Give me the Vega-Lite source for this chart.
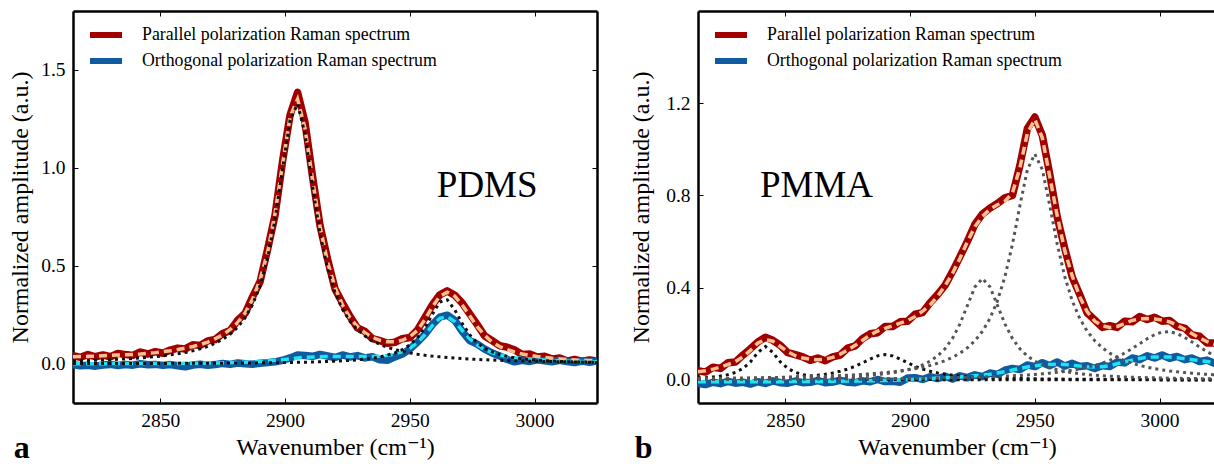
{
"$schema": "https://vega.github.io/schema/vega-lite/v6.json",
"padding": {"left": 8, "top": 10, "right": 0, "bottom": 0},
"config": {
 "view": {"stroke": null},
 "font": "'Liberation Serif', 'Times New Roman', 'DejaVu Serif', serif",
 "axis": {"grid": false, "domainColor": "#000", "domainWidth": 2.5, "tickColor": "#000", "tickWidth": 1, "tickSize": -5, "labelFont": "'Liberation Serif', 'Times New Roman', 'DejaVu Serif', serif", "labelFontSize": 19.5, "labelColor": "#000", "titleFont": "'Liberation Serif', 'Times New Roman', 'DejaVu Serif', serif", "titleFontSize": 24, "titleFontWeight": "normal", "titleColor": "#000", "labelFlush": false, "labelOverlap": false},
 "legend": {"labelFont": "'Liberation Serif', 'Times New Roman', 'DejaVu Serif', serif", "labelFontSize": 17.8, "labelColor": "#000", "labelLimit": 0},
 "text": {"font": "'Liberation Serif', 'Times New Roman', 'DejaVu Serif', serif"}
},
"datasets": {
"pdms": [
{"x":2815,"par":0.042,"orth":-0.005,"fpar":0.036,"forth":0.0,"c1":0.0148,"c2":0.0012},
{"x":2818,"par":0.033,"orth":-0.01,"fpar":0.037,"forth":0.0,"c1":0.0159,"c2":0.0013},
{"x":2821,"par":0.047,"orth":-0.008,"fpar":0.038,"forth":0.0,"c1":0.017,"c2":0.0013},
{"x":2824,"par":0.036,"orth":-0.012,"fpar":0.039,"forth":0.0,"c1":0.0183,"c2":0.0014},
{"x":2827,"par":0.045,"orth":-0.006,"fpar":0.041,"forth":0.0,"c1":0.0197,"c2":0.0014},
{"x":2830,"par":0.036,"orth":-0.003,"fpar":0.043,"forth":0.001,"c1":0.0213,"c2":0.0015},
{"x":2833,"par":0.053,"orth":-0.009,"fpar":0.045,"forth":0.001,"c1":0.0231,"c2":0.0016},
{"x":2836,"par":0.047,"orth":-0.004,"fpar":0.046,"forth":0.001,"c1":0.0251,"c2":0.0016},
{"x":2839,"par":0.043,"orth":-0.007,"fpar":0.048,"forth":0.001,"c1":0.0274,"c2":0.0017},
{"x":2842,"par":0.06,"orth":0.0,"fpar":0.05,"forth":0.001,"c1":0.03,"c2":0.0018},
{"x":2845,"par":0.05,"orth":-0.005,"fpar":0.053,"forth":0.001,"c1":0.0331,"c2":0.0019},
{"x":2848,"par":0.062,"orth":-0.003,"fpar":0.057,"forth":0.002,"c1":0.0365,"c2":0.002},
{"x":2851,"par":0.054,"orth":-0.008,"fpar":0.062,"forth":0.002,"c1":0.0407,"c2":0.0021},
{"x":2854,"par":0.07,"orth":-0.004,"fpar":0.067,"forth":0.002,"c1":0.0454,"c2":0.0022},
{"x":2857,"par":0.08,"orth":-0.01,"fpar":0.073,"forth":0.002,"c1":0.0512,"c2":0.0023},
{"x":2860,"par":0.076,"orth":-0.015,"fpar":0.08,"forth":0.003,"c1":0.0581,"c2":0.0025},
{"x":2863,"par":0.097,"orth":-0.006,"fpar":0.088,"forth":0.003,"c1":0.0662,"c2":0.0027},
{"x":2866,"par":0.094,"orth":-0.002,"fpar":0.098,"forth":0.003,"c1":0.0764,"c2":0.0028},
{"x":2869,"par":0.117,"orth":-0.008,"fpar":0.111,"forth":0.004,"c1":0.0889,"c2":0.003},
{"x":2872,"par":0.124,"orth":-0.004,"fpar":0.128,"forth":0.004,"c1":0.1047,"c2":0.0032},
{"x":2875,"par":0.155,"orth":0.002,"fpar":0.148,"forth":0.005,"c1":0.125,"c2":0.0034},
{"x":2878,"par":0.17,"orth":-0.003,"fpar":0.175,"forth":0.006,"c1":0.1515,"c2":0.0036},
{"x":2881,"par":0.222,"orth":0.004,"fpar":0.21,"forth":0.007,"c1":0.1868,"c2":0.0039},
{"x":2884,"par":0.258,"orth":0.0,"fpar":0.26,"forth":0.008,"c1":0.2354,"c2":0.0042},
{"x":2887,"par":0.343,"orth":-0.002,"fpar":0.33,"forth":0.01,"c1":0.303,"c2":0.0045},
{"x":2890,"par":0.42,"orth":0.003,"fpar":0.43,"forth":0.012,"c1":0.399,"c2":0.0049},
{"x":2893,"par":0.585,"orth":0.006,"fpar":0.57,"forth":0.015,"c1":0.54,"c2":0.0053},
{"x":2896,"par":0.76,"orth":0.01,"fpar":0.77,"forth":0.018,"c1":0.739,"c2":0.0058},
{"x":2899,"par":1.035,"orth":0.018,"fpar":1.02,"forth":0.021,"c1":0.996,"c2":0.0063},
{"x":2902,"par":1.27,"orth":0.03,"fpar":1.26,"forth":0.025,"c1":1.244,"c2":0.007},
{"x":2905,"par":1.385,"orth":0.045,"fpar":1.35,"forth":0.03,"c1":1.326,"c2":0.0075},
{"x":2908,"par":1.23,"orth":0.042,"fpar":1.2,"forth":0.033,"c1":1.171,"c2":0.0083},
{"x":2911,"par":0.955,"orth":0.038,"fpar":0.94,"forth":0.035,"c1":0.906,"c2":0.0092},
{"x":2914,"par":0.705,"orth":0.048,"fpar":0.7,"forth":0.036,"c1":0.665,"c2":0.0103},
{"x":2917,"par":0.535,"orth":0.04,"fpar":0.52,"forth":0.037,"c1":0.487,"c2":0.0117},
{"x":2920,"par":0.382,"orth":0.032,"fpar":0.39,"forth":0.037,"c1":0.363,"c2":0.0133},
{"x":2923,"par":0.31,"orth":0.045,"fpar":0.3,"forth":0.037,"c1":0.278,"c2":0.0152},
{"x":2926,"par":0.242,"orth":0.035,"fpar":0.235,"forth":0.037,"c1":0.217,"c2":0.0175},
{"x":2929,"par":0.183,"orth":0.042,"fpar":0.19,"forth":0.037,"c1":0.174,"c2":0.0205},
{"x":2932,"par":0.165,"orth":0.03,"fpar":0.158,"forth":0.037,"c1":0.142,"c2":0.0242},
{"x":2935,"par":0.128,"orth":0.036,"fpar":0.135,"forth":0.037,"c1":0.118,"c2":0.029},
{"x":2938,"par":0.118,"orth":0.02,"fpar":0.12,"forth":0.039,"c1":0.099,"c2":0.0353},
{"x":2941,"par":0.105,"orth":0.018,"fpar":0.112,"forth":0.043,"c1":0.0844,"c2":0.0438},
{"x":2944,"par":0.11,"orth":0.035,"fpar":0.112,"forth":0.05,"c1":0.0727,"c2":0.0556},
{"x":2947,"par":0.128,"orth":0.05,"fpar":0.12,"forth":0.062,"c1":0.0633,"c2":0.0722},
{"x":2950,"par":0.134,"orth":0.075,"fpar":0.138,"forth":0.08,"c1":0.0556,"c2":0.0965},
{"x":2953,"par":0.172,"orth":0.11,"fpar":0.17,"forth":0.108,"c1":0.0492,"c2":0.1323},
{"x":2956,"par":0.235,"orth":0.15,"fpar":0.225,"forth":0.148,"c1":0.0437,"c2":0.184},
{"x":2959,"par":0.3,"orth":0.2,"fpar":0.29,"forth":0.195,"c1":0.0392,"c2":0.252},
{"x":2962,"par":0.352,"orth":0.238,"fpar":0.345,"forth":0.232,"c1":0.0354,"c2":0.315},
{"x":2965,"par":0.372,"orth":0.248,"fpar":0.365,"forth":0.24,"c1":0.032,"c2":0.326},
{"x":2968,"par":0.35,"orth":0.222,"fpar":0.345,"forth":0.215,"c1":0.0291,"c2":0.2756},
{"x":2971,"par":0.31,"orth":0.165,"fpar":0.3,"forth":0.17,"c1":0.0266,"c2":0.2056},
{"x":2974,"par":0.255,"orth":0.118,"fpar":0.245,"forth":0.128,"c1":0.0244,"c2":0.1477},
{"x":2977,"par":0.2,"orth":0.1,"fpar":0.19,"forth":0.095,"c1":0.0225,"c2":0.107},
{"x":2980,"par":0.142,"orth":0.075,"fpar":0.145,"forth":0.072,"c1":0.0207,"c2":0.0793},
{"x":2983,"par":0.118,"orth":0.055,"fpar":0.11,"forth":0.056,"c1":0.0192,"c2":0.0605},
{"x":2986,"par":0.092,"orth":0.04,"fpar":0.088,"forth":0.045,"c1":0.0178,"c2":0.0473},
{"x":2989,"par":0.085,"orth":0.022,"fpar":0.072,"forth":0.037,"c1":0.0166,"c2":0.0379},
{"x":2992,"par":0.07,"orth":0.01,"fpar":0.06,"forth":0.031,"c1":0.0155,"c2":0.0309},
{"x":2995,"par":0.048,"orth":0.018,"fpar":0.05,"forth":0.027,"c1":0.0145,"c2":0.0257},
{"x":2998,"par":0.05,"orth":0.012,"fpar":0.043,"forth":0.024,"c1":0.0136,"c2":0.0216},
{"x":3001,"par":0.035,"orth":0.02,"fpar":0.037,"forth":0.021,"c1":0.0128,"c2":0.0184},
{"x":3004,"par":0.038,"orth":0.015,"fpar":0.032,"forth":0.019,"c1":0.012,"c2":0.0159},
{"x":3007,"par":0.024,"orth":0.01,"fpar":0.028,"forth":0.017,"c1":0.0113,"c2":0.0139},
{"x":3010,"par":0.03,"orth":0.018,"fpar":0.025,"forth":0.016,"c1":0.0107,"c2":0.0122},
{"x":3013,"par":0.014,"orth":0.012,"fpar":0.022,"forth":0.014,"c1":0.0101,"c2":0.0108},
{"x":3016,"par":0.022,"orth":0.006,"fpar":0.02,"forth":0.013,"c1":0.0096,"c2":0.0096},
{"x":3019,"par":0.012,"orth":0.014,"fpar":0.018,"forth":0.012,"c1":0.0091,"c2":0.0086},
{"x":3022,"par":0.02,"orth":0.008,"fpar":0.017,"forth":0.011,"c1":0.0086,"c2":0.0078},
{"x":3025,"par":0.014,"orth":0.015,"fpar":0.016,"forth":0.01,"c1":0.0082,"c2":0.007}
],
"pmma": [
{"x":2815,"par":0.04,"orth":-0.015,"fpar":0.035,"forth":-0.008,"p1":0.0079,"p2":0.0032,"p4":0.0034,"p5":0.0065,"p6":0.0021},
{"x":2818,"par":0.034,"orth":-0.02,"fpar":0.04,"forth":-0.008,"p1":0.0099,"p2":0.0035,"p4":0.0035,"p5":0.0068,"p6":0.0022},
{"x":2821,"par":0.055,"orth":-0.01,"fpar":0.047,"forth":-0.008,"p1":0.0127,"p2":0.0038,"p4":0.0037,"p5":0.0071,"p6":0.0022},
{"x":2824,"par":0.05,"orth":-0.016,"fpar":0.056,"forth":-0.008,"p1":0.0167,"p2":0.0041,"p4":0.004,"p5":0.0074,"p6":0.0023},
{"x":2827,"par":0.075,"orth":-0.006,"fpar":0.067,"forth":-0.008,"p1":0.0229,"p2":0.0045,"p4":0.0042,"p5":0.0078,"p6":0.0024},
{"x":2830,"par":0.078,"orth":-0.014,"fpar":0.08,"forth":-0.008,"p1":0.0329,"p2":0.0049,"p4":0.0044,"p5":0.0082,"p6":0.0025},
{"x":2833,"par":0.108,"orth":-0.01,"fpar":0.1,"forth":-0.008,"p1":0.0497,"p2":0.0054,"p4":0.0047,"p5":0.0086,"p6":0.0026},
{"x":2836,"par":0.135,"orth":-0.018,"fpar":0.128,"forth":-0.008,"p1":0.0783,"p2":0.006,"p4":0.005,"p5":0.009,"p6":0.0027},
{"x":2839,"par":0.165,"orth":-0.008,"fpar":0.16,"forth":-0.008,"p1":0.1195,"p2":0.0067,"p4":0.0054,"p5":0.0095,"p6":0.0028},
{"x":2842,"par":0.185,"orth":-0.015,"fpar":0.175,"forth":-0.008,"p1":0.145,"p2":0.0075,"p4":0.0057,"p5":0.0101,"p6":0.0029},
{"x":2845,"par":0.172,"orth":-0.004,"fpar":0.168,"forth":-0.008,"p1":0.1195,"p2":0.0085,"p4":0.0061,"p5":0.0106,"p6":0.003},
{"x":2848,"par":0.15,"orth":-0.012,"fpar":0.145,"forth":-0.008,"p1":0.0783,"p2":0.0096,"p4":0.0066,"p5":0.0113,"p6":0.0031},
{"x":2851,"par":0.118,"orth":-0.014,"fpar":0.122,"forth":-0.007,"p1":0.0497,"p2":0.011,"p4":0.0071,"p5":0.012,"p6":0.0033},
{"x":2854,"par":0.11,"orth":-0.005,"fpar":0.105,"forth":-0.007,"p1":0.0329,"p2":0.0127,"p4":0.0077,"p5":0.0127,"p6":0.0034},
{"x":2857,"par":0.1,"orth":-0.012,"fpar":0.095,"forth":-0.007,"p1":0.0229,"p2":0.0148,"p4":0.0083,"p5":0.0135,"p6":0.0035},
{"x":2860,"par":0.085,"orth":-0.01,"fpar":0.09,"forth":-0.007,"p1":0.0167,"p2":0.0174,"p4":0.0091,"p5":0.0144,"p6":0.0037},
{"x":2863,"par":0.095,"orth":-0.003,"fpar":0.088,"forth":-0.007,"p1":0.0127,"p2":0.0207,"p4":0.0099,"p5":0.0154,"p6":0.0038},
{"x":2866,"par":0.083,"orth":-0.012,"fpar":0.09,"forth":-0.006,"p1":0.0099,"p2":0.0249,"p4":0.0108,"p5":0.0165,"p6":0.004},
{"x":2869,"par":0.1,"orth":-0.009,"fpar":0.098,"forth":-0.006,"p1":0.0079,"p2":0.0305,"p4":0.0119,"p5":0.0178,"p6":0.0042},
{"x":2872,"par":0.108,"orth":-0.002,"fpar":0.112,"forth":-0.006,"p1":0.0065,"p2":0.0377,"p4":0.0128,"p5":0.0191,"p6":0.0044},
{"x":2875,"par":0.138,"orth":-0.01,"fpar":0.13,"forth":-0.005,"p1":0.0054,"p2":0.0472,"p4":0.0146,"p5":0.0206,"p6":0.0046},
{"x":2878,"par":0.148,"orth":-0.012,"fpar":0.15,"forth":-0.005,"p1":0.0046,"p2":0.0594,"p4":0.0163,"p5":0.0224,"p6":0.0048},
{"x":2881,"par":0.18,"orth":-0.004,"fpar":0.172,"forth":-0.004,"p1":0.0039,"p2":0.0744,"p4":0.0183,"p5":0.0243,"p6":0.0051},
{"x":2884,"par":0.2,"orth":-0.008,"fpar":0.195,"forth":-0.004,"p1":0.0034,"p2":0.0907,"p4":0.0207,"p5":0.0265,"p6":0.0053},
{"x":2887,"par":0.205,"orth":0.002,"fpar":0.212,"forth":-0.003,"p1":0.003,"p2":0.1045,"p4":0.0236,"p5":0.029,"p6":0.0056},
{"x":2890,"par":0.232,"orth":-0.007,"fpar":0.224,"forth":-0.002,"p1":0.0026,"p2":0.11,"p4":0.0272,"p5":0.0319,"p6":0.0058},
{"x":2893,"par":0.232,"orth":-0.006,"fpar":0.235,"forth":-0.001,"p1":0.0023,"p2":0.1045,"p4":0.0315,"p5":0.0352,"p6":0.0062},
{"x":2896,"par":0.252,"orth":-0.01,"fpar":0.246,"forth":0.0,"p1":0.002,"p2":0.0907,"p4":0.037,"p5":0.039,"p6":0.0065},
{"x":2899,"par":0.255,"orth":0.008,"fpar":0.258,"forth":0.001,"p1":0.0018,"p2":0.0744,"p4":0.044,"p5":0.0436,"p6":0.0069},
{"x":2902,"par":0.285,"orth":0.01,"fpar":0.275,"forth":0.003,"p1":0.0017,"p2":0.0594,"p4":0.0531,"p5":0.0489,"p6":0.0072},
{"x":2905,"par":0.292,"orth":0.002,"fpar":0.298,"forth":0.004,"p1":0.0015,"p2":0.0472,"p4":0.0651,"p5":0.0552,"p6":0.0076},
{"x":2908,"par":0.335,"orth":0.014,"fpar":0.325,"forth":0.006,"p1":0.0014,"p2":0.0377,"p4":0.0813,"p5":0.0629,"p6":0.0081},
{"x":2911,"par":0.37,"orth":0.006,"fpar":0.362,"forth":0.008,"p1":0.0013,"p2":0.0305,"p4":0.1038,"p5":0.0722,"p6":0.0086},
{"x":2914,"par":0.41,"orth":0.016,"fpar":0.408,"forth":0.009,"p1":0.0012,"p2":0.0249,"p4":0.1354,"p5":0.0837,"p6":0.0092},
{"x":2917,"par":0.47,"orth":0.004,"fpar":0.462,"forth":0.011,"p1":0.0011,"p2":0.0207,"p4":0.1803,"p5":0.098,"p6":0.0098},
{"x":2920,"par":0.535,"orth":0.018,"fpar":0.528,"forth":0.013,"p1":0.001,"p2":0.0174,"p4":0.2431,"p5":0.1161,"p6":0.0105},
{"x":2923,"par":0.602,"orth":0.01,"fpar":0.6,"forth":0.015,"p1":0.001,"p2":0.0148,"p4":0.3235,"p5":0.1395,"p6":0.0112},
{"x":2926,"par":0.675,"orth":0.022,"fpar":0.665,"forth":0.018,"p1":0.0009,"p2":0.0127,"p4":0.4037,"p5":0.1701,"p6":0.0121},
{"x":2929,"par":0.72,"orth":0.014,"fpar":0.71,"forth":0.021,"p1":0.0009,"p2":0.011,"p4":0.44,"p5":0.211,"p6":0.013},
{"x":2932,"par":0.745,"orth":0.03,"fpar":0.74,"forth":0.025,"p1":0.0008,"p2":0.0096,"p4":0.4037,"p5":0.2664,"p6":0.014},
{"x":2935,"par":0.765,"orth":0.024,"fpar":0.76,"forth":0.03,"p1":0.0008,"p2":0.0085,"p4":0.3235,"p5":0.3427,"p6":0.0152},
{"x":2938,"par":0.79,"orth":0.042,"fpar":0.775,"forth":0.036,"p1":0.0007,"p2":0.0075,"p4":0.2431,"p5":0.4475,"p6":0.0165},
{"x":2941,"par":0.8,"orth":0.05,"fpar":0.81,"forth":0.043,"p1":0.0007,"p2":0.0067,"p4":0.1803,"p5":0.5871,"p6":0.018},
{"x":2944,"par":0.93,"orth":0.045,"fpar":0.92,"forth":0.05,"p1":0.0006,"p2":0.006,"p4":0.1354,"p5":0.7553,"p6":0.0197},
{"x":2947,"par":1.09,"orth":0.065,"fpar":1.07,"forth":0.056,"p1":0.0006,"p2":0.0054,"p4":0.1038,"p5":0.9121,"p6":0.0217},
{"x":2950,"par":1.14,"orth":0.058,"fpar":1.13,"forth":0.062,"p1":0.0006,"p2":0.0049,"p4":0.0813,"p5":0.98,"p6":0.0239},
{"x":2953,"par":1.06,"orth":0.075,"fpar":1.05,"forth":0.065,"p1":0.0005,"p2":0.0045,"p4":0.0651,"p5":0.9121,"p6":0.0265},
{"x":2956,"par":0.89,"orth":0.062,"fpar":0.88,"forth":0.067,"p1":0.0005,"p2":0.0041,"p4":0.0531,"p5":0.7553,"p6":0.0295},
{"x":2959,"par":0.705,"orth":0.078,"fpar":0.71,"forth":0.068,"p1":0.0005,"p2":0.0038,"p4":0.044,"p5":0.5871,"p6":0.033},
{"x":2962,"par":0.57,"orth":0.06,"fpar":0.56,"forth":0.067,"p1":0.0005,"p2":0.0035,"p4":0.037,"p5":0.4475,"p6":0.0371},
{"x":2965,"par":0.445,"orth":0.072,"fpar":0.45,"forth":0.064,"p1":0.0004,"p2":0.0032,"p4":0.0315,"p5":0.3427,"p6":0.042},
{"x":2968,"par":0.37,"orth":0.058,"fpar":0.36,"forth":0.06,"p1":0.0004,"p2":0.003,"p4":0.0272,"p5":0.2664,"p6":0.0478},
{"x":2971,"par":0.29,"orth":0.062,"fpar":0.295,"forth":0.057,"p1":0.0004,"p2":0.0028,"p4":0.0236,"p5":0.211,"p6":0.0547},
{"x":2974,"par":0.26,"orth":0.05,"fpar":0.255,"forth":0.056,"p1":0.0004,"p2":0.0026,"p4":0.0207,"p5":0.1701,"p6":0.0631},
{"x":2977,"par":0.228,"orth":0.062,"fpar":0.235,"forth":0.057,"p1":0.0004,"p2":0.0024,"p4":0.0183,"p5":0.1395,"p6":0.0731},
{"x":2980,"par":0.235,"orth":0.058,"fpar":0.228,"forth":0.062,"p1":0.0003,"p2":0.0022,"p4":0.0163,"p5":0.1161,"p6":0.0852},
{"x":2983,"par":0.228,"orth":0.078,"fpar":0.232,"forth":0.07,"p1":0.0003,"p2":0.0021,"p4":0.0146,"p5":0.098,"p6":0.0996},
{"x":2986,"par":0.255,"orth":0.074,"fpar":0.245,"forth":0.078,"p1":0.0003,"p2":0.002,"p4":0.0128,"p5":0.0837,"p6":0.1167},
{"x":2989,"par":0.252,"orth":0.095,"fpar":0.258,"forth":0.086,"p1":0.0003,"p2":0.0019,"p4":0.0119,"p5":0.0722,"p6":0.1361},
{"x":2992,"par":0.275,"orth":0.088,"fpar":0.265,"forth":0.093,"p1":0.0003,"p2":0.0018,"p4":0.0108,"p5":0.0629,"p6":0.1573},
{"x":2995,"par":0.262,"orth":0.105,"fpar":0.266,"forth":0.098,"p1":0.0003,"p2":0.0017,"p4":0.0099,"p5":0.0552,"p6":0.1784},
{"x":2998,"par":0.272,"orth":0.095,"fpar":0.264,"forth":0.1,"p1":0.0003,"p2":0.0016,"p4":0.0091,"p5":0.0489,"p6":0.1964},
{"x":3001,"par":0.255,"orth":0.108,"fpar":0.26,"forth":0.1,"p1":0.0002,"p2":0.0015,"p4":0.0083,"p5":0.0436,"p6":0.2077},
{"x":3004,"par":0.258,"orth":0.094,"fpar":0.252,"forth":0.099,"p1":0.0002,"p2":0.0014,"p4":0.0077,"p5":0.039,"p6":0.2094},
{"x":3007,"par":0.232,"orth":0.102,"fpar":0.238,"forth":0.096,"p1":0.0002,"p2":0.0014,"p4":0.0071,"p5":0.0352,"p6":0.2011},
{"x":3010,"par":0.225,"orth":0.088,"fpar":0.22,"forth":0.092,"p1":0.0002,"p2":0.0013,"p4":0.0066,"p5":0.0319,"p6":0.1849},
{"x":3013,"par":0.195,"orth":0.095,"fpar":0.2,"forth":0.088,"p1":0.0002,"p2":0.0012,"p4":0.0061,"p5":0.029,"p6":0.1644},
{"x":3016,"par":0.19,"orth":0.08,"fpar":0.182,"forth":0.084,"p1":0.0002,"p2":0.0012,"p4":0.0057,"p5":0.0265,"p6":0.143},
{"x":3019,"par":0.16,"orth":0.086,"fpar":0.166,"forth":0.08,"p1":0.0002,"p2":0.0011,"p4":0.0054,"p5":0.0243,"p6":0.1229},
{"x":3022,"par":0.16,"orth":0.072,"fpar":0.155,"forth":0.076,"p1":0.0002,"p2":0.0011,"p4":0.005,"p5":0.0224,"p6":0.105},
{"x":3025,"par":0.145,"orth":0.078,"fpar":0.148,"forth":0.073,"p1":0.0002,"p2":0.001,"p4":0.0047,"p5":0.0206,"p6":0.0897}
]
},
"spacing": 31,
"resolve": {"scale": {"color": "independent"}, "legend": {"color": "independent"}},
"hconcat": [
{
 "width": 524, "height": 392,
 "data": {"name": "pdms"},
 "title": {"text": "a", "orient": "bottom", "anchor": "start", "frame": "bounds", "offset": -27, "dx": 5, "fontSize": 32, "fontWeight": "bold", "font": "'Liberation Serif', 'Times New Roman', 'DejaVu Serif', serif", "color": "#000"},
 "resolve": {"axis": {"x": "independent", "y": "independent"}},
 "layer": [
  {"transform": [{"fold": ["par", "orth"], "as": ["key", "val"]}],
   "mark": {"type": "line", "strokeWidth": 7.5, "strokeJoin": "round", "strokeCap": "round", "clip": true},
   "encoding": {
    "x": {"field": "x", "type": "quantitative", "scale": {"domain": [2815, 3025], "nice": false, "zero": false}, "axis": {"orient": "bottom", "values": [2850, 2900, 2950, 3000], "format": "d", "title": "Wavenumber (cm⁻¹)", "labelPadding": 13, "titlePadding": 6}},
    "y": {"field": "val", "type": "quantitative", "scale": {"domain": [-0.2, 1.8], "nice": false, "zero": false}, "axis": {"orient": "left", "values": [0, 0.5, 1, 1.5], "format": ".1f", "title": "Normalized amplitude (a.u.)", "labelPadding": 13, "titlePadding": 8}},
    "color": {"field": "key", "type": "nominal", "scale": {"domain": ["par", "orth"], "range": ["#a00000", "#105aa0"]},
     "legend": {"title": null, "orient": "none", "legendX": 22, "legendY": 13, "symbolType": "M-2,0H2", "symbolStrokeWidth": 6, "symbolSize": 256, "labelOffset": 25, "rowPadding": 2, "labelLimit": 0, "labelExpr": "datum.value == 'par' ? 'Parallel polarization Raman spectrum' : 'Orthogonal polarization Raman spectrum'"}}
   }},
  {"mark": {"type": "line", "stroke": "#f7c08f", "strokeWidth": 3.5, "strokeDash": [8, 5], "clip": true},
   "encoding": {"x": {"field": "x", "type": "quantitative", "scale": {"domain": [2815, 3025], "nice": false, "zero": false}, "axis": null},
    "y": {"field": "fpar", "type": "quantitative", "scale": {"domain": [-0.2, 1.8], "nice": false, "zero": false}, "axis": null}}},
  {"mark": {"type": "line", "stroke": "#1ee3f0", "strokeWidth": 3.5, "strokeDash": [8, 5], "clip": true},
   "encoding": {"x": {"field": "x", "type": "quantitative", "scale": {"domain": [2815, 3025], "nice": false, "zero": false}, "axis": null},
    "y": {"field": "forth", "type": "quantitative", "scale": {"domain": [-0.2, 1.8], "nice": false, "zero": false}, "axis": null}}},
  {"mark": {"type": "line", "stroke": "#111111", "strokeWidth": 3, "strokeDash": [3, 4], "clip": true},
   "encoding": {"x": {"field": "x", "type": "quantitative", "scale": {"domain": [2815, 3025], "nice": false, "zero": false}, "axis": null},
    "y": {"field": "c1", "type": "quantitative", "scale": {"domain": [-0.2, 1.8], "nice": false, "zero": false}, "axis": null}}},
  {"mark": {"type": "line", "stroke": "#111111", "strokeWidth": 3, "strokeDash": [3, 4], "clip": true},
   "encoding": {"x": {"field": "x", "type": "quantitative", "scale": {"domain": [2815, 3025], "nice": false, "zero": false}, "axis": null},
    "y": {"field": "c2", "type": "quantitative", "scale": {"domain": [-0.2, 1.8], "nice": false, "zero": false}, "axis": null}}},
  {"data": {"values": [{"x": 2981, "y": 0.851, "t": "PDMS"}]},
   "mark": {"type": "text", "fontSize": 37, "font": "'Liberation Serif', 'Times New Roman', 'DejaVu Serif', serif", "align": "center", "baseline": "alphabetic", "color": "#000"},
   "encoding": {"x": {"field": "x", "type": "quantitative", "scale": {"domain": [2815, 3025], "nice": false, "zero": false}, "axis": {"orient": "top", "labels": false, "title": null, "values": [2850, 2900, 2950, 3000]}},
    "y": {"field": "y", "type": "quantitative", "scale": {"domain": [-0.2, 1.8], "nice": false, "zero": false}, "axis": {"orient": "right", "labels": false, "title": null, "values": [0, 0.5, 1, 1.5]}},
    "text": {"field": "t"}}}
 ]
},
{
 "width": 518, "height": 392,
 "data": {"name": "pmma"},
 "title": {"text": "b", "orient": "bottom", "anchor": "start", "frame": "bounds", "offset": -27, "dx": 5, "fontSize": 32, "fontWeight": "bold", "font": "'Liberation Serif', 'Times New Roman', 'DejaVu Serif', serif", "color": "#000"},
 "resolve": {"axis": {"x": "independent", "y": "independent"}},
 "layer": [
  {"transform": [{"fold": ["par", "orth"], "as": ["key", "val"]}],
   "mark": {"type": "line", "strokeWidth": 7.5, "strokeJoin": "round", "strokeCap": "round", "clip": true},
   "encoding": {
    "x": {"field": "x", "type": "quantitative", "scale": {"domain": [2815, 3022.6], "nice": false, "zero": false}, "axis": {"orient": "bottom", "values": [2850, 2900, 2950, 3000], "format": "d", "title": "Wavenumber (cm⁻¹)", "labelPadding": 13, "titlePadding": 6}},
    "y": {"field": "val", "type": "quantitative", "scale": {"domain": [-0.1, 1.6], "nice": false, "zero": false}, "axis": {"orient": "left", "values": [0, 0.4, 0.8, 1.2], "format": ".1f", "title": "Normalized amplitude (a.u.)", "labelPadding": 13, "titlePadding": 12}},
    "color": {"field": "key", "type": "nominal", "scale": {"domain": ["par", "orth"], "range": ["#a00000", "#105aa0"]},
     "legend": {"title": null, "orient": "none", "legendX": 22, "legendY": 13, "symbolType": "M-2,0H2", "symbolStrokeWidth": 6, "symbolSize": 256, "labelOffset": 25, "rowPadding": 2, "labelLimit": 0, "labelExpr": "datum.value == 'par' ? 'Parallel polarization Raman spectrum' : 'Orthogonal polarization Raman spectrum'"}}
   }},
  {"mark": {"type": "line", "stroke": "#f7c08f", "strokeWidth": 3.5, "strokeDash": [8, 5], "clip": true},
   "encoding": {"x": {"field": "x", "type": "quantitative", "scale": {"domain": [2815, 3022.6], "nice": false, "zero": false}, "axis": null},
    "y": {"field": "fpar", "type": "quantitative", "scale": {"domain": [-0.1, 1.6], "nice": false, "zero": false}, "axis": null}}},
  {"mark": {"type": "line", "stroke": "#1ee3f0", "strokeWidth": 3.5, "strokeDash": [8, 5], "clip": true},
   "encoding": {"x": {"field": "x", "type": "quantitative", "scale": {"domain": [2815, 3022.6], "nice": false, "zero": false}, "axis": null},
    "y": {"field": "forth", "type": "quantitative", "scale": {"domain": [-0.1, 1.6], "nice": false, "zero": false}, "axis": null}}},
  {"mark": {"type": "line", "stroke": "#111111", "strokeWidth": 3, "strokeDash": [3, 4], "clip": true},
   "encoding": {"x": {"field": "x", "type": "quantitative", "scale": {"domain": [2815, 3022.6], "nice": false, "zero": false}, "axis": null},
    "y": {"field": "p1", "type": "quantitative", "scale": {"domain": [-0.1, 1.6], "nice": false, "zero": false}, "axis": null}}},
  {"mark": {"type": "line", "stroke": "#111111", "strokeWidth": 3, "strokeDash": [3, 4], "clip": true},
   "encoding": {"x": {"field": "x", "type": "quantitative", "scale": {"domain": [2815, 3022.6], "nice": false, "zero": false}, "axis": null},
    "y": {"field": "p2", "type": "quantitative", "scale": {"domain": [-0.1, 1.6], "nice": false, "zero": false}, "axis": null}}},
  {"mark": {"type": "line", "stroke": "#555555", "strokeWidth": 3, "strokeDash": [3, 4], "clip": true},
   "encoding": {"x": {"field": "x", "type": "quantitative", "scale": {"domain": [2815, 3022.6], "nice": false, "zero": false}, "axis": null},
    "y": {"field": "p4", "type": "quantitative", "scale": {"domain": [-0.1, 1.6], "nice": false, "zero": false}, "axis": null}}},
  {"mark": {"type": "line", "stroke": "#555555", "strokeWidth": 3, "strokeDash": [3, 4], "clip": true},
   "encoding": {"x": {"field": "x", "type": "quantitative", "scale": {"domain": [2815, 3022.6], "nice": false, "zero": false}, "axis": null},
    "y": {"field": "p5", "type": "quantitative", "scale": {"domain": [-0.1, 1.6], "nice": false, "zero": false}, "axis": null}}},
  {"mark": {"type": "line", "stroke": "#555555", "strokeWidth": 3, "strokeDash": [3, 4], "clip": true},
   "encoding": {"x": {"field": "x", "type": "quantitative", "scale": {"domain": [2815, 3022.6], "nice": false, "zero": false}, "axis": null},
    "y": {"field": "p6", "type": "quantitative", "scale": {"domain": [-0.1, 1.6], "nice": false, "zero": false}, "axis": null}}},
  {"data": {"values": [{"x": 2862.5, "y": 0.794, "t": "PMMA"}]},
   "mark": {"type": "text", "fontSize": 37, "font": "'Liberation Serif', 'Times New Roman', 'DejaVu Serif', serif", "align": "center", "baseline": "alphabetic", "color": "#000"},
   "encoding": {"x": {"field": "x", "type": "quantitative", "scale": {"domain": [2815, 3022.6], "nice": false, "zero": false}, "axis": {"orient": "top", "labels": false, "title": null, "values": [2850, 2900, 2950, 3000]}},
    "y": {"field": "y", "type": "quantitative", "scale": {"domain": [-0.1, 1.6], "nice": false, "zero": false}, "axis": null},
    "text": {"field": "t"}}}
 ]
}
]
}
